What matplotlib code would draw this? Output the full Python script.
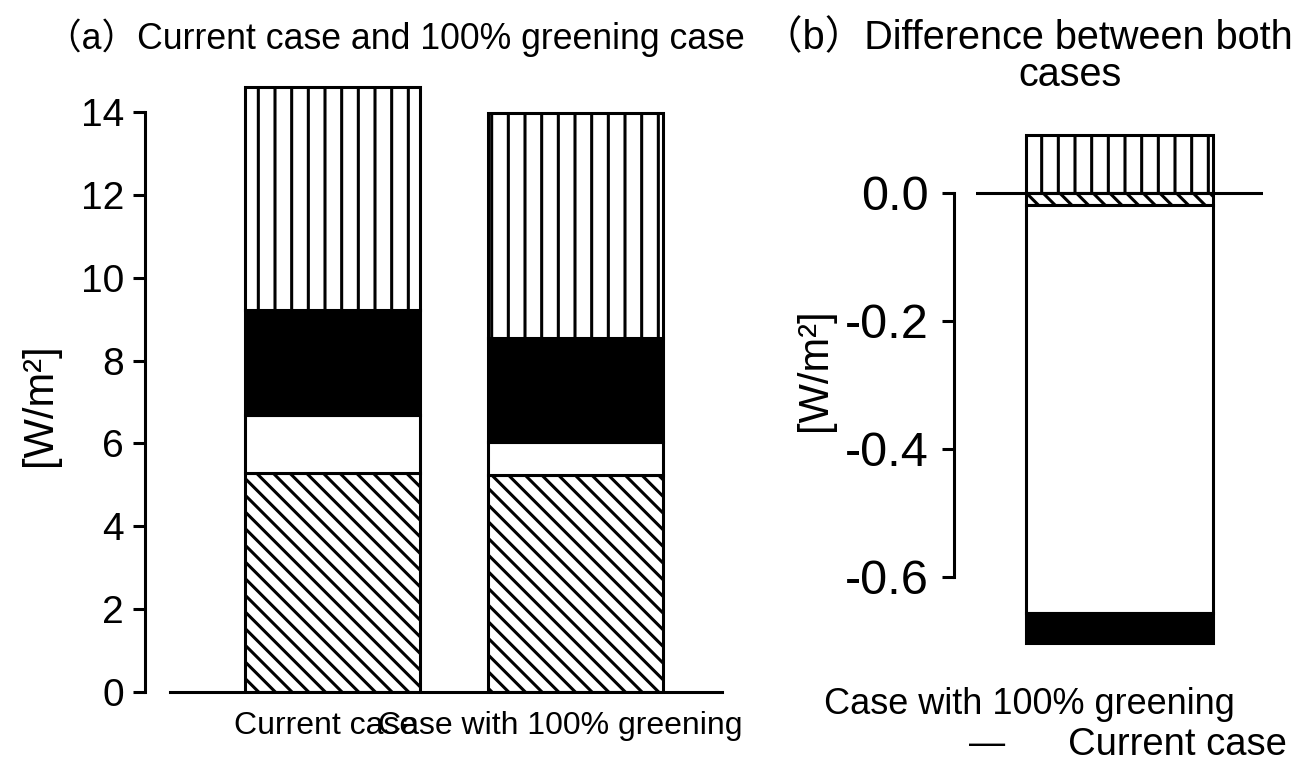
import numpy as np
import matplotlib
matplotlib.use("Agg")
import matplotlib.pyplot as plt
from matplotlib.transforms import ScaledTranslation

plt.rcParams["font.family"] = ["Liberation Sans", "Noto Sans CJK JP", "DejaVu Sans"]
plt.rcParams["hatch.linewidth"] = 2.2
plt.rcParams["hatch.color"] = "black"

# ---- data ----
cases = ["Current case", "Case with 100% greening"]
# stacked components, bottom to top [W/m2]
seg_diagonal = [5.28, 5.24]
seg_open = [1.40, 0.79]
seg_solid = [2.54, 2.51]
seg_vertical = [5.38, 5.43]

# difference (100% greening minus current)
diff_vertical = 0.09
diff_diagonal = -0.019
diff_open = -0.637
diff_solid = -0.047

yticks_a = [0, 2, 4, 6, 8, 10, 12, 14]
yticks_b = [0.0, -0.2, -0.4, -0.6]
ytick_labels_b = ["0.0", "-0.2", "-0.4", "-0.6"]

styles = [dict(color="white", hatch="\\\\"),
          dict(color="white", hatch=None),
          dict(color="black", hatch=None),
          dict(color="white", hatch="|")]

EDGE_LW = 2.2
W, H = 1300, 770
fig = plt.figure(figsize=(W / 100, H / 100), dpi=100)

# ---- panel (a) ----
ax = fig.add_axes([170 / W, (H - 692) / H, (722 - 170) / W, 621.4 / H])
x = np.arange(len(cases))
bottom = np.zeros(len(cases))
for vals, st in zip([seg_diagonal, seg_open, seg_solid, seg_vertical], styles):
    ax.bar(x, vals, width=0.72, bottom=bottom, color=st["color"], hatch=st["hatch"],
           edgecolor="black", linewidth=EDGE_LW, zorder=2)
    bottom += np.array(vals)
ax.set_xlim(-0.669, 1.603)
ax.set_ylim(0, 15)
for s in ["top", "right"]:
    ax.spines[s].set_visible(False)
ax.spines["left"].set_position(("outward", 18))
ax.spines["left"].set_bounds(0, 14)
ax.spines["left"].set_linewidth(EDGE_LW)
ax.spines["bottom"].set_linewidth(EDGE_LW)
ax.set_yticks(yticks_a)
ax.set_yticklabels([str(v) for v in yticks_a])
ax.tick_params(axis="y", length=9, width=EDGE_LW, pad=6, labelsize=28)
ax.set_xticks(x)
ax.set_xticklabels(cases)
ax.tick_params(axis="x", length=0, pad=14, labelsize=23)
for lab, dx in zip(ax.get_xticklabels(), [-7, -15]):
    lab.set_transform(lab.get_transform() + ScaledTranslation(dx / 100, 0, fig.dpi_scale_trans))
ax.patch.set_visible(False)

fig.text(395 / W, 1 - 38 / H, "（a）Current case and 100% greening case",
         ha="center", va="center", fontsize=25.7)
fig.text(40 / W, 1 - 405 / H, "[W/m²]", rotation=90, ha="center", va="center",
         fontsize=30)

# ---- panel (b) ----
bx = fig.add_axes([976 / W, (H - 660.2) / H, 287 / W, 544 / H])
bx.set_xlim(-0.767, 0.767)
bx.set_ylim(-0.73, 0.12)
bx.bar(0, diff_vertical, width=1.0, bottom=0, color="white", hatch=styles[3]["hatch"],
       edgecolor="black", linewidth=EDGE_LW, zorder=2)
neg_bottom = 0.0
for val, st in zip([diff_diagonal, diff_open, diff_solid], styles[:3]):
    bx.bar(0, val, width=1.0, bottom=neg_bottom, color=st["color"], hatch=st["hatch"],
           edgecolor="black", linewidth=EDGE_LW, zorder=2)
    neg_bottom += val
bx.axhline(0, color="black", linewidth=EDGE_LW, zorder=3)
for s in ["top", "right", "bottom"]:
    bx.spines[s].set_visible(False)
bx.spines["left"].set_position(("outward", 16))
bx.spines["left"].set_bounds(-0.6, 0)
bx.spines["left"].set_linewidth(EDGE_LW)
bx.set_yticks(yticks_b)
bx.set_yticklabels(ytick_labels_b)
bx.tick_params(axis="y", length=9, width=EDGE_LW, pad=9, labelsize=35)
bx.set_xticks([])
bx.patch.set_visible(False)

fig.text(1293 / W, 1 - 38 / H, "（b）Difference between both",
         ha="right", va="center", fontsize=28.5)
fig.text(1070 / W, 1 - 75 / H, "cases", ha="center", va="center", fontsize=28.5)
fig.text(815 / W, 1 - 370 / H, "[W/m²]", rotation=90, ha="center", va="center",
         fontsize=30)
fig.text(1029 / W, 1 - 705 / H, "Case with 100% greening", ha="center", va="center",
         fontsize=26)
fig.text(987 / W, 1 - 745 / H, "—", ha="center", va="center", fontsize=26)
fig.text(1177 / W, 1 - 745 / H, "Current case", ha="center", va="center",
         fontsize=27.5)

fig.savefig("out.png", dpi=100, facecolor="white")
